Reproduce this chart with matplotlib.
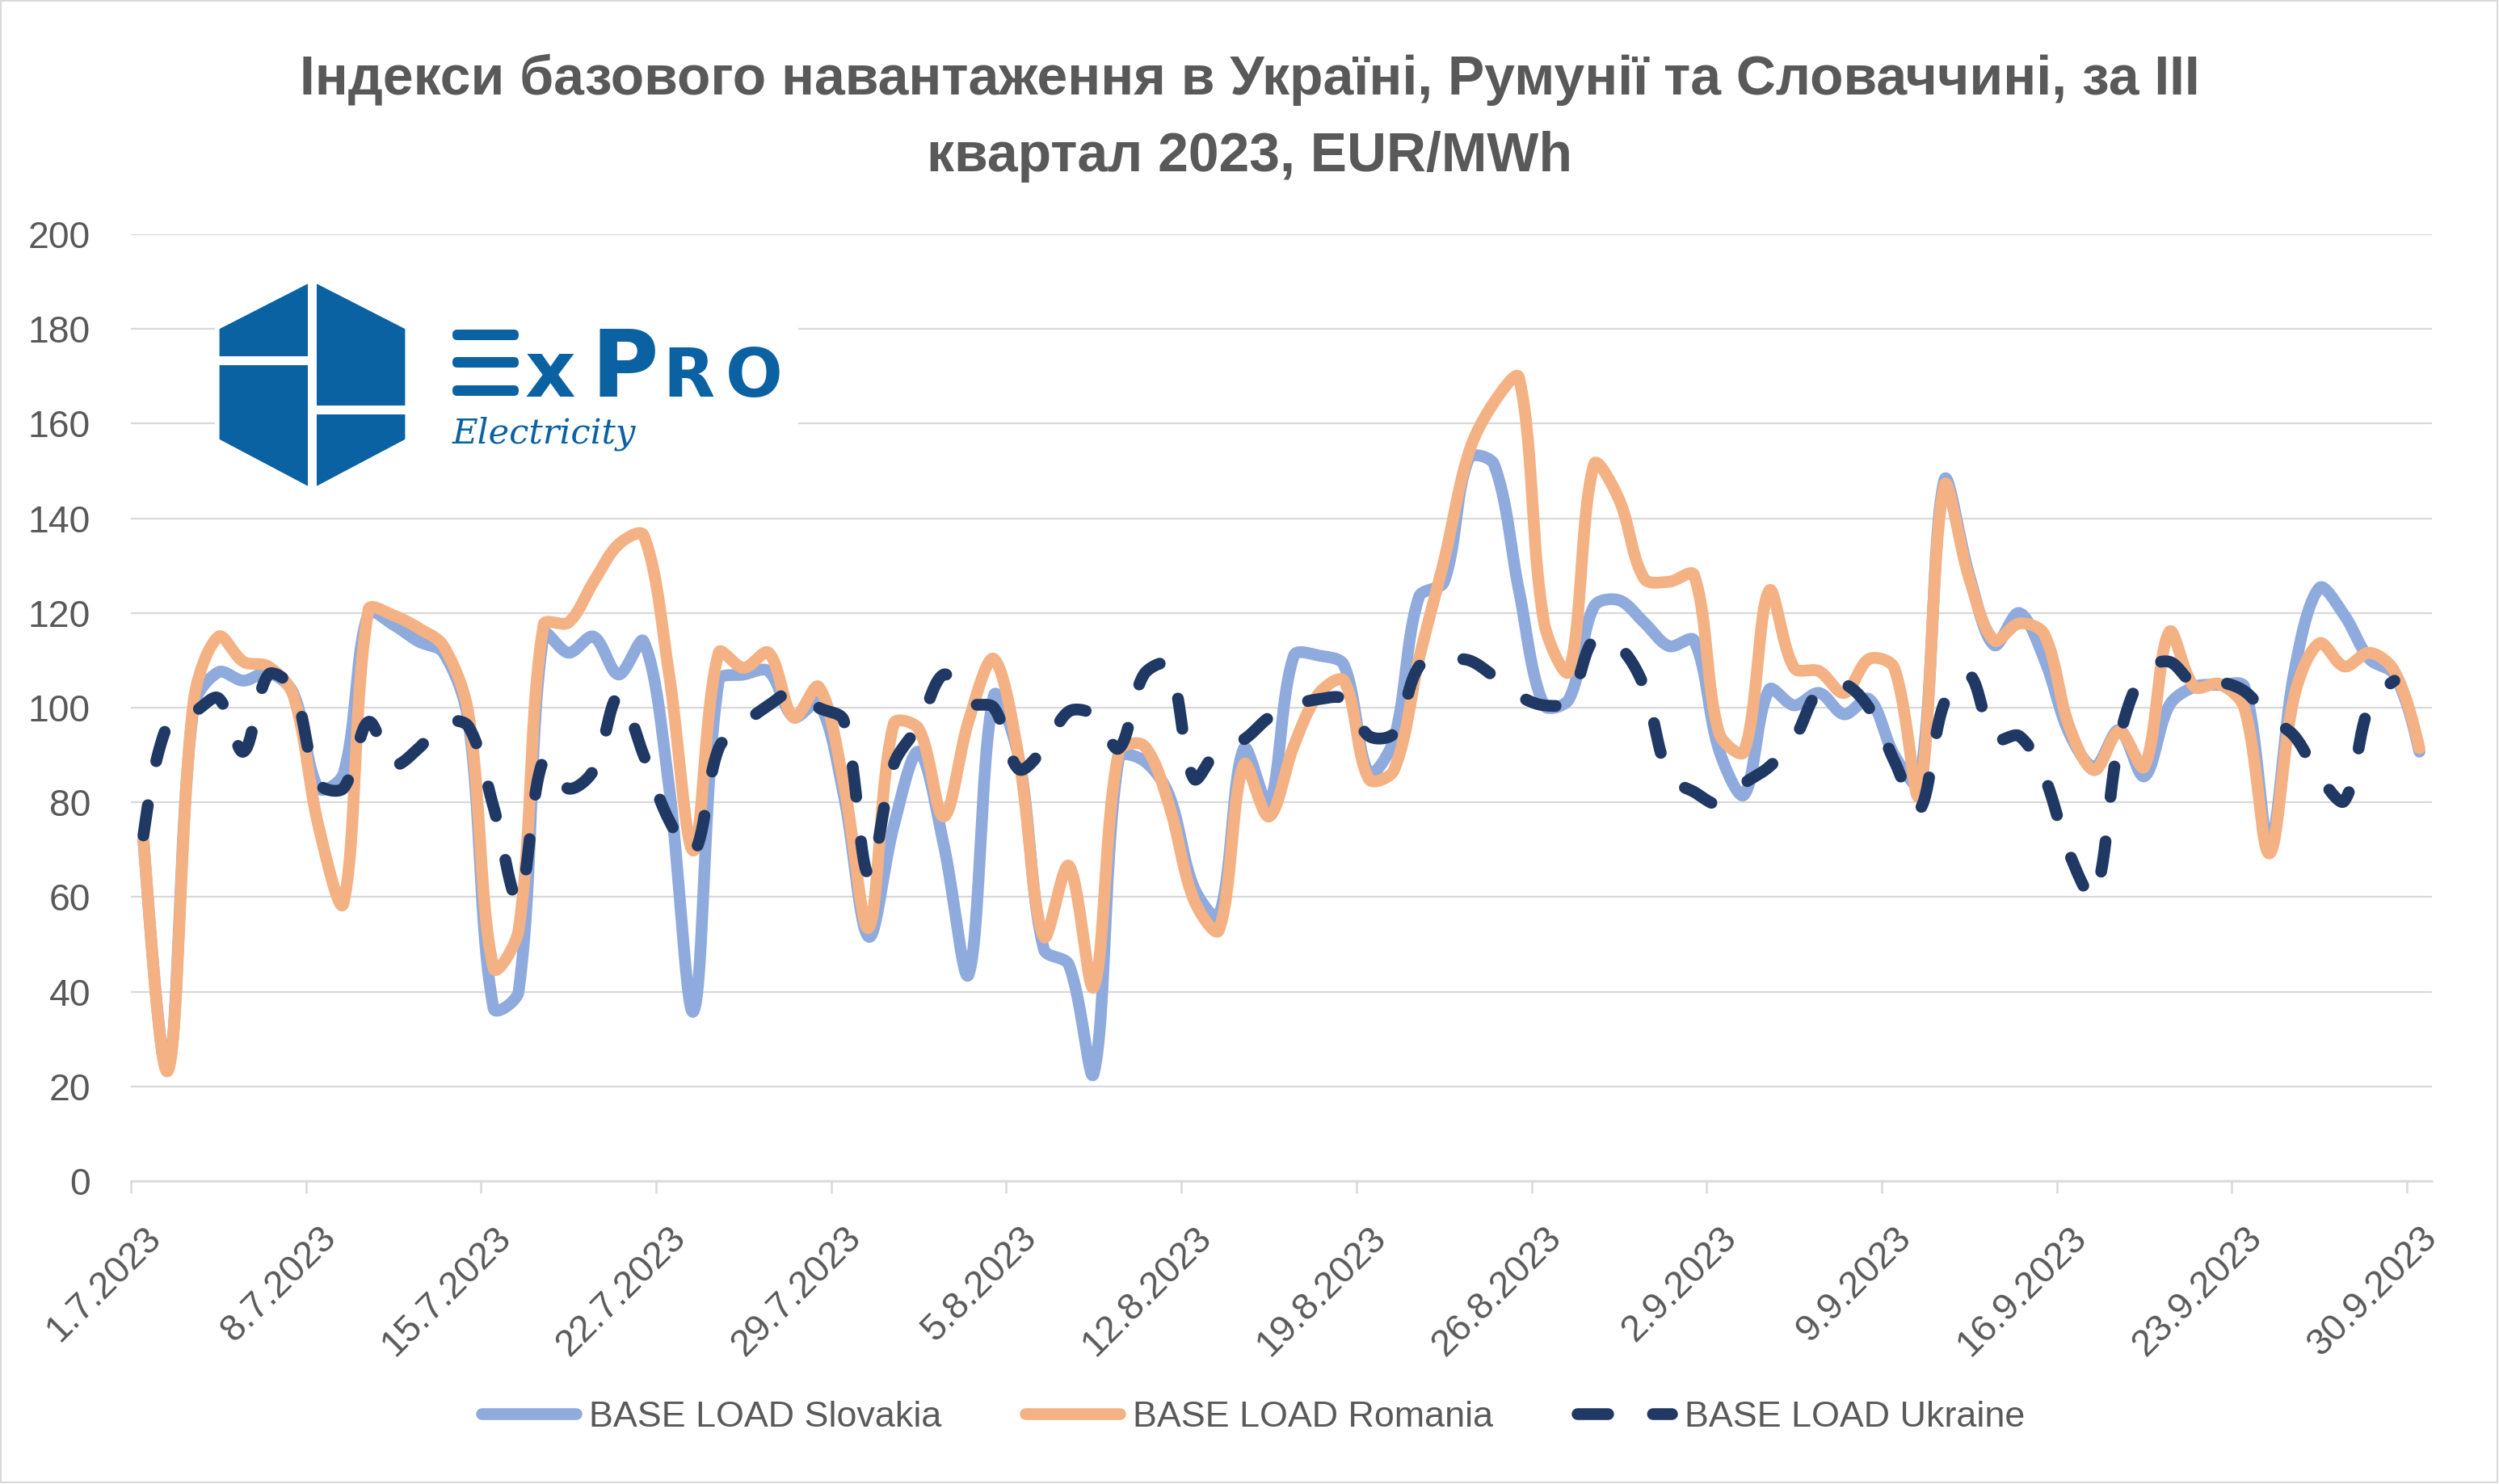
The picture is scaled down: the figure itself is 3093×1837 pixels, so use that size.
import numpy as np
import matplotlib
matplotlib.use('Agg')
import matplotlib.pyplot as plt
from matplotlib import font_manager as fm
from matplotlib.patches import Polygon, Rectangle, FancyBboxPatch
from matplotlib.transforms import ScaledTranslation

# ---------------- data ----------------
title_lines = ['Індекси базового навантаження в Україні, Румунії та Словаччині, за ІІІ',
               'квартал 2023, EUR/MWh']
series_names = ['BASE LOAD Slovakia', 'BASE LOAD Romania', 'BASE LOAD Ukraine']
tick_labels = ['1.7.2023', '8.7.2023', '15.7.2023', '22.7.2023', '29.7.2023', '5.8.2023',
               '12.8.2023', '19.8.2023', '26.8.2023', '2.9.2023', '9.9.2023', '16.9.2023',
               '23.9.2023', '30.9.2023']
y_ticks = [0, 20, 40, 60, 80, 100, 120, 140, 160, 180, 200]

# daily values 1.7.2023 ... 30.9.2023 (92 days)
slovakia = [72, 24, 100, 107.5, 105.7, 107.4, 103, 83, 86, 120,
            117.5, 114, 111.6, 97, 36.5, 40, 115.5, 111.6, 115, 107,
            114, 84, 35.9, 105.7, 107, 107.7, 98, 101, 81.6, 51.6,
            75, 90.7, 71, 43.7, 102.5, 89.4, 49, 45.7, 22.8, 89.4,
            88.8, 81.6, 62, 56, 91.4, 79.6, 111, 111, 109, 86.2,
            93.3, 123.4, 126.6, 152.7, 151.4, 124.7, 100.5, 101.8, 121.4, 122.7,
            118, 113, 114.2, 91, 81.6, 103.8, 100.5, 103.1, 98.6, 101.8,
            90, 84, 148, 128, 113.2, 120, 110.3, 94.6, 87.5, 95.3,
            85.5, 100.5, 104.4, 104.8, 104.4, 71, 107.7, 125.3, 119.5, 110.3,
            107, 90.7]
romania = [72.5, 23.5, 101, 115, 109.7, 108.7, 102.5, 75, 58.7, 120.7,
           119.5, 116.8, 113, 98.6, 45, 53, 117.5, 118, 126.6, 134.5,
           136.4, 107.7, 69.8, 111.6, 108.4, 111.6, 97.9, 104.4, 84, 53.5,
           96.6, 95.5, 77, 97.3, 110.3, 89.4, 51.6, 66.6, 41, 90.7,
           92, 79.6, 59.4, 53, 88, 77, 92, 103, 105.7, 84.9,
           86.8, 110.3, 131, 154, 164.5, 169.7, 118, 107.7, 151.4, 144,
           127.3, 126.6, 128, 94.6, 90.7, 124.7, 108.4, 107.7, 103.1, 110.3,
           108.4, 81.6, 146.9, 127.3, 114.2, 117.8, 115.5, 96, 86.8, 95,
           87.5, 116, 104.4, 105, 99.9, 69.2, 102.5, 113.6, 108.7, 111.6,
           107.7, 91.4]
ukraine = [73, 97, 99, 102, 90.7, 107, 103.8, 84, 83, 97,
           88, 91.4, 96.9, 96, 79, 59.4, 89, 82.9, 86.8, 102.5,
           90, 76.4, 69.2, 91.4, 96.6, 100.5, 103.5, 100, 97.3, 64.6,
           88, 96.3, 107, 101, 100, 87, 91.4, 99.2, 98.5, 91.4,
           107, 109, 85, 91.4, 93.3, 97.9, 100.5, 101.8, 101.8, 94,
           94.6, 108.7, 110, 110, 106.6, 102.5, 100.5, 101.4, 114.5, 113,
           104.4, 85.5, 82.2, 79.6, 84, 87.5, 93.3, 103.8, 105, 99.9,
           88.8, 78.3, 101, 107, 93.3, 94, 85.5, 69.2, 60, 93.3,
           107.7, 109.7, 105, 105.4, 103.5, 98, 94, 85.5, 80.3, 100.5,
           105.7, np.nan]

# ---------------- style ----------------
W, H, DPI = 3093, 1837, 100
avail = {f.name for f in fm.fontManager.ttflist}


def pick(*names):
    for n in names:
        if n in avail:
            return n
    return 'DejaVu Sans'


NARROW = pick('Liberation Sans Narrow', 'Arial Narrow', 'Liberation Sans', 'Arial')
GRAY_TXT = '#595959'
GRID = '#D9D9D9'
C_SK, C_RO, C_UA = '#8FAADC', '#F4B183', '#1F3864'
LOGO = '#0B62A3'
LW = 10.5
PX = DPI / 72.0  # pixels per point

fig = plt.figure(figsize=(W / DPI, H / DPI), dpi=DPI)
fig.patch.set_facecolor('white')


def fx(x):
    return x / W


def fy(y):
    return 1 - y / H


renderer = fig.canvas.get_renderer()


def fit_size(text, target_px, family, weight='normal', base=40, style='normal'):
    t = fig.text(0, 0, text, fontsize=base, family=family, weight=weight, style=style)
    w = t.get_window_extent(renderer).width
    t.remove()
    return base * target_px / w


tick_fs = fit_size('200', 77, NARROW)
leg_fs = fit_size(series_names[0], 436, NARROW)
title_fs = fit_size(title_lines[0], 2353, NARROW, weight='bold', base=58)

AX_L, AX_R, AX_T, AX_B = 162, 3010, 290, 1462
ax = fig.add_axes([fx(AX_L), fy(AX_B), (AX_R - AX_L) / W, (AX_B - AX_T) / H])
XMIN, XMAX, YMIN, YMAX = -0.5, 91.5, 0, 200
SX = (AX_R - AX_L) / (XMAX - XMIN)
SY = (AX_B - AX_T) / (YMAX - YMIN)


def smooth(y, t=1 / 3, n=28):
    """Bezier smoothing (Excel-like) computed in screen space."""
    y = np.asarray(y, float)
    m = len(y)
    P = np.column_stack([np.arange(m) * SX, y * SY])
    cR = P.copy()
    cL = P.copy()
    for i in range(1, m - 1):
        d01 = np.hypot(*(P[i] - P[i - 1]))
        d12 = np.hypot(*(P[i + 1] - P[i]))
        tot = d01 + d12
        fa = t * d01 / tot
        fb = t * d12 / tot
        v = P[i + 1] - P[i - 1]
        cL[i] = P[i] - fa * v
        cR[i] = P[i] + fb * v
    cR[0] = P[0] + (cL[1] - P[0]) * 0.5
    cL[m - 1] = P[m - 1] + (cR[m - 2] - P[m - 1]) * 0.5
    s = np.linspace(0, 1, n, endpoint=False)[:, None]
    pts = []
    for i in range(m - 1):
        b = ((1 - s) ** 3 * P[i] + 3 * (1 - s) ** 2 * s * cR[i]
             + 3 * (1 - s) * s ** 2 * cL[i + 1] + s ** 3 * P[i + 1])
        pts.append(b)
    pts.append(P[-1:])
    pts = np.vstack(pts)
    return pts[:, 0] / SX, pts[:, 1] / SY


handles = []
for vals, col, name, z in [(slovakia, C_SK, series_names[0], 3),
                           (romania, C_RO, series_names[1], 4)]:
    xs, ys = smooth(vals)
    h, = ax.plot(xs, ys, color=col, lw=LW, solid_capstyle='round',
                 solid_joinstyle='round', label=name, zorder=z)
    handles.append(h)

ua = np.asarray(ukraine, float)
ua = ua[~np.isnan(ua)]
xs, ys = smooth(ua)
h, = ax.plot(xs, ys, color=C_UA, lw=LW, linestyle=(0, (2.6, 3.8)),
             dash_capstyle='round', dash_joinstyle='round', label=series_names[2], zorder=5)
handles.append(h)

ax.set_xlim(XMIN, XMAX)
ax.set_ylim(YMIN, YMAX)
ax.set_yticks(y_ticks)
ax.set_yticklabels([str(v) for v in y_ticks], family=NARROW)
ax.grid(axis='y', color=GRID, lw=1.6)
ax.set_axisbelow(True)
for s in ['top', 'right', 'left']:
    ax.spines[s].set_visible(False)
ax.spines['bottom'].set_color(GRID)
ax.spines['bottom'].set_linewidth(1.8)
ax.tick_params(axis='y', length=0, pad=36, labelcolor=GRAY_TXT, labelsize=tick_fs)

ax.set_xticks(np.arange(0, 92, 7))
ax.set_xticklabels(tick_labels, rotation=45, ha='right', va='center',
                   rotation_mode='anchor', family=NARROW)
ax.set_xticks(np.arange(-0.5, 92, 7), minor=True)
ax.tick_params(axis='x', which='major', length=0, pad=46, labelsize=tick_fs,
               labelcolor=GRAY_TXT)
ax.tick_params(axis='x', which='minor', length=11, width=1.8, color=GRID)
off = ScaledTranslation(15 / DPI, 0, fig.dpi_scale_trans)
for lab in ax.get_xticklabels():
    lab.set_transform(lab.get_transform() + off)

# title
fig.text(0.5, fy(117), title_lines[0], ha='center', va='baseline', fontsize=title_fs,
         family=NARROW, weight='bold', color=GRAY_TXT)
fig.text(0.5, fy(212), title_lines[1], ha='center', va='baseline', fontsize=title_fs,
         family=NARROW, weight='bold', color=GRAY_TXT)

# legend (spacings given in pixels, converted to font-size units)
em = leg_fs * PX
leg = fig.legend(handles=handles, labels=series_names, loc='center',
                 bbox_to_anchor=(fx(1551), fy(1754)), ncol=3, frameon=False,
                 handlelength=117 / em, handletextpad=16 / em,
                 columnspacing=104 / em, prop={'family': NARROW, 'size': leg_fs})
for t in leg.get_texts():
    t.set_color(GRAY_TXT)

# ---------------- logo overlay (pixel coordinates) ----------------
lax = fig.add_axes([0, 0, 1, 1], zorder=10)
lax.set_xlim(0, W)
lax.set_ylim(H, 0)
lax.axis('off')
lax.patch.set_alpha(0)

lax.add_patch(Rectangle((1, 1), W - 3, H - 3, fill=False, edgecolor=GRID, lw=1.5))
lax.add_patch(Rectangle((266, 336), 722, 278, facecolor='white', edgecolor='none'))
hexv = [(386.5, 350), (500, 408), (500, 543), (386.5, 603), (273, 543), (273, 408)]
lax.add_patch(Polygon(hexv, closed=True, facecolor=LOGO, edgecolor=LOGO, lw=2,
                      joinstyle='round'))
lax.add_patch(Rectangle((381, 340), 11, 275, facecolor='white', edgecolor='none'))
lax.add_patch(Rectangle((268, 441), 118, 11, facecolor='white', edgecolor='none'))
lax.add_patch(Rectangle((387, 502), 118, 11, facecolor='white', edgecolor='none'))

for ytop in (408, 442, 477):
    lax.add_patch(FancyBboxPatch((560, ytop), 82, 13,
                                 boxstyle='round,pad=0,rounding_size=6',
                                 facecolor=LOGO, edgecolor='none'))
lax.text(650, 491, 'x', fontsize=70, family='DejaVu Sans', weight='bold',
         color=LOGO, ha='left', va='baseline')
lax.text(732, 491, 'P', fontsize=82, family='DejaVu Sans', weight='bold',
         color=LOGO, ha='left', va='baseline')
lax.text(820, 491, 'R', fontsize=60, family='DejaVu Sans', weight='bold',
         color=LOGO, ha='left', va='baseline')
lax.text(898, 491, 'O', fontsize=60, family='DejaVu Sans', weight='bold',
         color=LOGO, ha='left', va='baseline')
el_fs = fit_size('Electricity', 228, 'DejaVu Serif', style='italic', base=36)
lax.text(560, 548, 'Electricity', fontsize=el_fs, family='DejaVu Serif', style='italic',
         color=LOGO, ha='left', va='baseline')

fig.savefig('out.png', dpi=DPI, facecolor='white')
